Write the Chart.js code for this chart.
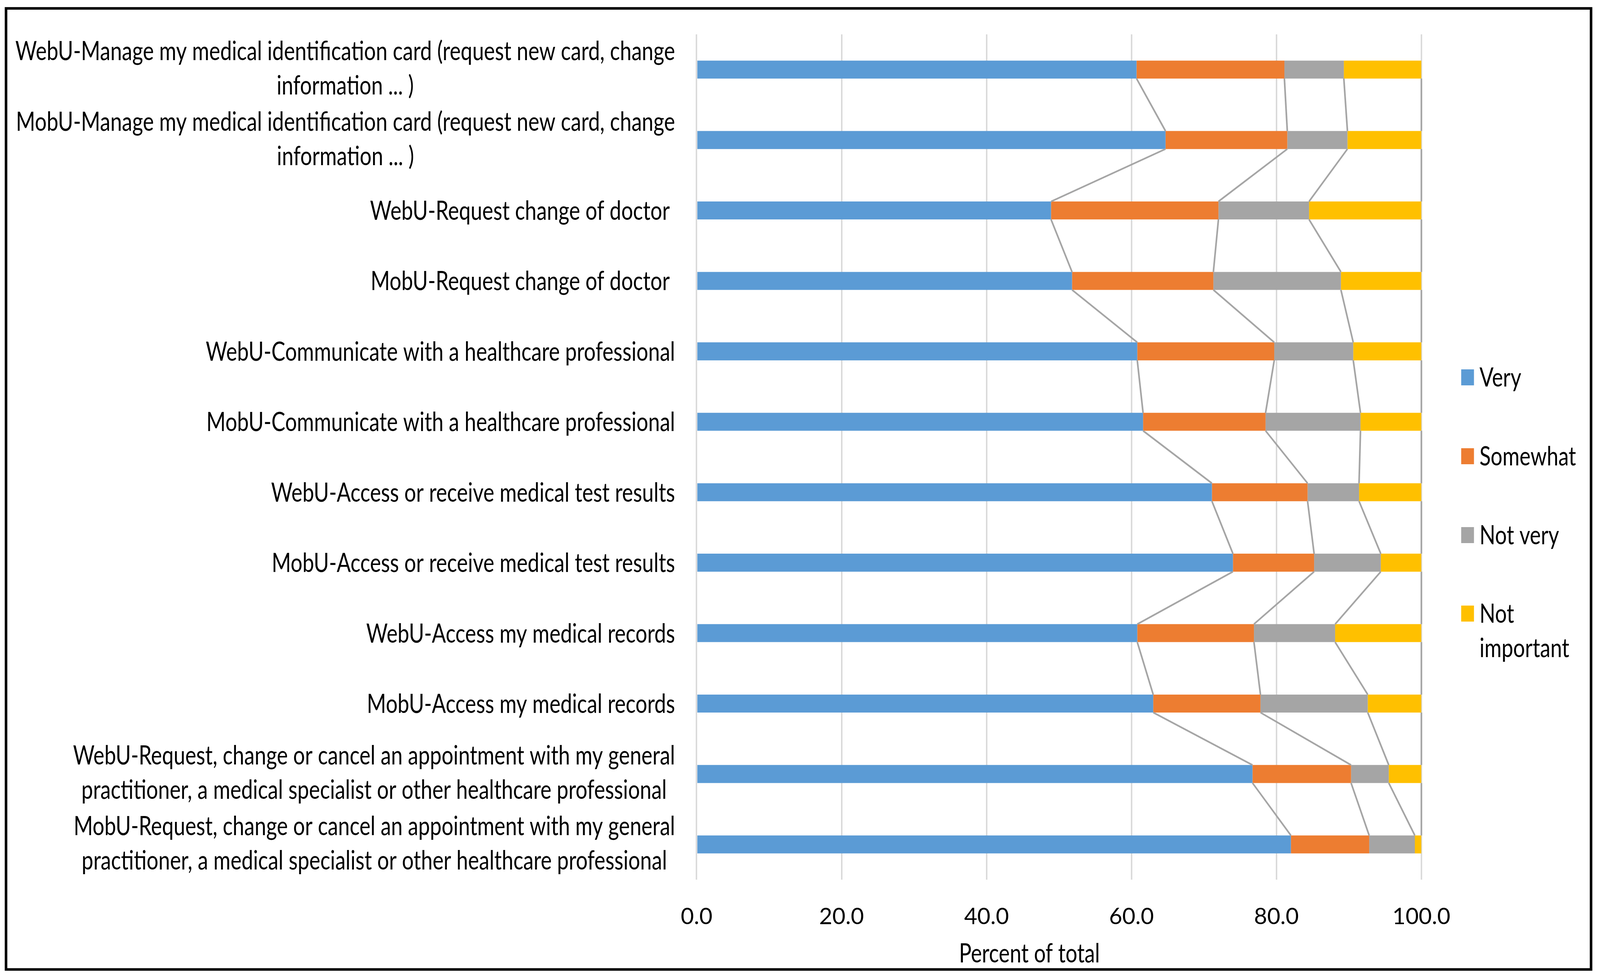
<!DOCTYPE html>
<html>
<head>
<meta charset="utf-8">
<script src="https://cdn.jsdelivr.net/npm/chart.js@4/dist/chart.umd.min.js"></script>
<style>
  html, body { margin: 0; padding: 0; background: #ffffff; overflow: hidden; }
  canvas { display: block; }
</style>
</head>
<body>
<canvas id="chart"></canvas>
<script>
// ---------------- DATA ----------------
const categories = [
  ["WebU-Manage my medical identification card (request new card, change", "information ... )"],
  ["MobU-Manage my medical identification card (request new card, change", "information ... )"],
  ["WebU-Request change of doctor "],
  ["MobU-Request change of doctor "],
  ["WebU-Communicate with a healthcare professional"],
  ["MobU-Communicate with a healthcare professional"],
  ["WebU-Access or receive medical test results"],
  ["MobU-Access or receive medical test results"],
  ["WebU-Access my medical records"],
  ["MobU-Access my medical records"],
  ["WebU-Request, change or cancel an appointment with my general", "practitioner, a medical specialist or other healthcare professional"],
  ["MobU-Request, change or cancel an appointment with my general", "practitioner, a medical specialist or other healthcare professional"]
];
const seriesNames = ["Very", "Somewhat", "Not very", "Not important"];
const veryValues         = [60.7, 64.7, 48.9, 51.8, 60.8, 61.6, 71.1, 74.0, 60.8, 63.0, 76.7, 82.0];
const somewhatValues     = [20.4, 16.8, 23.1, 19.5, 18.9, 16.9, 13.2, 11.2, 16.1, 14.8, 13.6, 10.8];
const notVeryValues      = [ 8.2,  8.3, 12.5, 17.6, 10.9, 13.1,  7.1,  9.2, 11.2, 14.8,  5.2,  6.3];
const notImportantValues = [10.7, 10.2, 15.5, 11.1,  9.4,  8.4,  8.6,  5.6, 11.9,  7.4,  4.5,  0.9];
const xTickValues = [0, 20, 40, 60, 80, 100];
const xAxisTitle = "Percent of total";

// ---------------- STYLE / LAYOUT (designed on a 4380 x 2510 grid, fitted to the window) ----------------
const seriesColors = ["#5B9BD5", "#ED7D31", "#A5A5A5", "#FFC000"];
const FONT_FAMILY = "Lato";
const W = window.innerWidth || 4380;
const H = window.innerHeight || 2510;
const SX = W / 4380;
const SY = H / 2510;
const px = v => v * SX;
const py = v => v * SY;
const FONT_SIZE = py(67);
const LINE_H = py(88);
const TARGET_FIRST_LINE_W = px(1806);

const allSeries = [veryValues, somewhatValues, notVeryValues, notImportantValues];

const canvas = document.getElementById("chart");
canvas.width = W;
canvas.height = H;

let condense = null;
function getCondense(ctx) {
  if (condense === null) {
    ctx.save();
    ctx.font = FONT_SIZE + "px " + FONT_FAMILY;
    const w = ctx.measureText(categories[0][0]).width;
    ctx.restore();
    condense = w > 0 ? TARGET_FIRST_LINE_W / w : 1;
  }
  return condense;
}
function drawText(ctx, text, x, y, align, sx) {
  ctx.save();
  ctx.translate(x, y);
  ctx.scale(sx, 1);
  ctx.textAlign = align;
  ctx.textBaseline = "alphabetic";
  ctx.fillText(text, 0, 0);
  ctx.restore();
}

const customPlugin = {
  id: "customDecor",
  beforeDraw(chart) {
    const ctx = chart.ctx;
    ctx.save();
    ctx.fillStyle = "#ffffff";
    ctx.fillRect(0, 0, chart.width, chart.height);
    ctx.restore();
  },
  afterDatasetsDraw(chart) {
    // Excel-style series lines joining segment ends of adjacent bars
    const ctx = chart.ctx;
    ctx.save();
    ctx.strokeStyle = "#A5A5A5";
    ctx.lineWidth = px(4.5);
    ctx.lineJoin = "round";
    for (let k = 0; k < allSeries.length; k++) {
      const els = chart.getDatasetMeta(k).data;
      for (let i = 0; i < els.length - 1; i++) {
        const a = els[i], b = els[i + 1];
        ctx.beginPath();
        ctx.moveTo(a.x, a.y + a.height / 2);
        ctx.lineTo(b.x, b.y - b.height / 2);
        ctx.stroke();
      }
    }
    ctx.restore();
  },
  afterDraw(chart) {
    const ctx = chart.ctx;
    const area = chart.chartArea;
    const sx = getCondense(ctx);
    const capH = FONT_SIZE * 0.7165;
    ctx.save();
    ctx.fillStyle = "#000000";
    ctx.font = FONT_SIZE + "px " + FONT_FAMILY;

    // Category labels: block right-aligned, lines centred within block
    const yScale = chart.scales.y;
    const rightEdge = area.left - px(59);
    categories.forEach((lines, i) => {
      const yc = yScale.getPixelForValue(i);
      const widths = lines.map(l => ctx.measureText(l).width * sx);
      const blockW = Math.max(...widths);
      const cx = rightEdge - blockW / 2;
      const n = lines.length;
      lines.forEach((line, j) => {
        const base = yc + capH / 2 + (j - (n - 1) / 2) * LINE_H - (n > 1 ? py(4) : 0);
        drawText(ctx, line, cx, base, "center", sx);
      });
    });

    // Axis title
    drawText(ctx, xAxisTitle, px(2818), py(2465), "center", sx);

    // Legend
    const boxX = area.right + px(109);
    const textX = area.right + px(159);
    const maxW = px(4340) - textX;
    const legendY = [966, 1168, 1370, 1571].map(py);
    seriesNames.forEach((name, k) => {
      const y = legendY[k];
      ctx.fillStyle = seriesColors[k];
      ctx.fillRect(boxX, y - py(20), px(35), py(41));
      ctx.fillStyle = "#000000";
      const words = name.split(" ");
      const out = [];
      let cur = "";
      words.forEach(w => {
        const test = cur ? cur + " " + w : w;
        if (cur && ctx.measureText(test).width * sx > maxW) { out.push(cur); cur = w; }
        else cur = test;
      });
      if (cur) out.push(cur);
      out.forEach((line, j) => {
        drawText(ctx, line, textX, y + capH / 2 + j * LINE_H, "left", sx);
      });
    });

    // Outer frame
    ctx.strokeStyle = "#000000";
    ctx.lineWidth = 7 * Math.min(SX, SY);
    ctx.strokeRect(px(16.5), py(21.5), px(4339), py(2461.5));
    ctx.restore();
  }
};

const datasets = allSeries.map((vals, k) => ({
  label: seriesNames[k],
  data: vals,
  backgroundColor: seriesColors[k],
  borderWidth: 0,
  barPercentage: 0.255,
  categoryPercentage: 1.0
}));

new Chart(canvas, {
  type: "bar",
  data: { labels: categories, datasets: datasets },
  plugins: [customPlugin],
  options: {
    indexAxis: "y",
    responsive: false,
    animation: false,
    layout: { padding: { left: px(1907), right: W - px(3891), top: py(88), bottom: 0 } },
    plugins: {
      legend: { display: false },
      tooltip: { enabled: false },
      title: { display: false }
    },
    scales: {
      x: {
        stacked: true,
        min: 0,
        max: 100,
        afterFit: (scale) => { scale.height = H - py(2253); },
        afterBuildTicks: (scale) => { scale.ticks = xTickValues.map(v => ({ value: v })); },
        ticks: {
          color: "#000000",
          font: { family: FONT_FAMILY, size: py(58) },
          padding: py(60),
          maxRotation: 0,
          callback: (v) => Number(v).toFixed(1)
        },
        grid: { color: "#D9D9D9", lineWidth: px(4), drawTicks: false },
        border: { display: false }
      },
      y: {
        stacked: true,
        display: false,
        grid: { display: false }
      }
    }
  }
});
</script>
</body>
</html>
